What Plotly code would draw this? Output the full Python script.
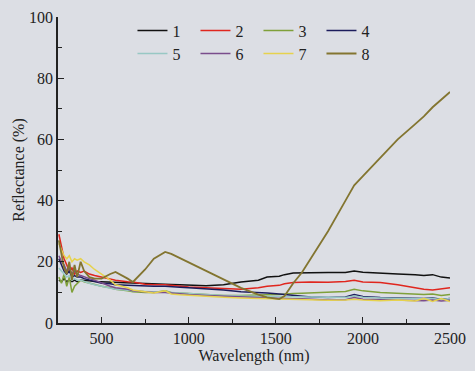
import plotly.graph_objects as go

wavelength = [255, 270, 285, 300, 315, 330, 345, 360, 380, 400, 430, 460, 500, 550, 580, 650, 680, 750,
              800, 865, 900, 950, 1000, 1100, 1200, 1300, 1400, 1450, 1520, 1550, 1600, 1650, 1700,
              1800, 1900, 1950, 2000, 2100, 2200, 2300, 2350, 2400, 2450, 2500]

s1 = [14, 13.5, 14.5, 13.5, 14, 13.5, 14, 13.5, 14, 14, 13.8, 13.6, 13.5, 13.3, 13.2, 13, 13, 12.8,
      12.8, 12.7, 12.6, 12.5, 12.4, 12.2, 12.5, 13.4, 14, 15, 15.3, 15.8, 16.3, 16.4, 16.4,
      16.5, 16.5, 17, 16.6, 16.2, 16, 15.8, 15.5, 15.8, 15, 14.7]
s2 = [29, 25, 21, 19, 17, 18, 16, 17, 16.5, 17, 16, 15.5, 15, 14.5, 14, 13.5, 13.4, 12.7,
      12.5, 12.5, 12.3, 12, 11.8, 11.5, 11.2, 11, 11.5, 12, 12.3, 12.8, 13.2, 13.3, 13.4,
      13.3, 13.6, 14, 13.4, 13.2, 12.5, 11.5, 11, 10.8, 11.2, 11.5]
s3 = [15, 13, 16, 12, 15, 10, 12, 13, 14, 13.5, 13, 12.5, 12, 11.5, 11, 10.5, 10.2, 10,
      10, 10.5, 10, 9.8, 9.6, 9.3, 9, 9, 9, 9.2, 9.3, 9.5, 9.6, 9.7, 9.8,
      10, 10.3, 11, 10.5, 10, 9.8, 9.5, 9.3, 9.5, 9, 9.3]
s4 = [21, 19, 17, 16, 17, 15, 15.5, 15, 15, 14.5, 14, 13.5, 13, 12.8, 12.5, 12.3, 12.2, 12,
      12, 12, 11.8, 11.7, 11.5, 11.2, 10.8, 10.2, 10, 9.8, 9.5, 9.3, 9, 8.8, 8.5,
      8.3, 8.5, 9.3, 8.7, 8.3, 8.2, 8.1, 8, 8.2, 7.8, 8]
s5 = [18, 17, 16, 15, 15.5, 14, 14.5, 14, 14, 13.5, 13, 12.5, 12, 11.5, 11, 10.7, 10.5, 10.3,
      10.2, 10.3, 10, 9.8, 9.6, 9.3, 9, 8.8, 8.7, 8.6, 8.5, 8.5, 8.4, 8.4, 8.3,
      8.2, 8.3, 8.8, 8.4, 8.2, 8, 8, 7.9, 8, 7.7, 8]
s6 = [22, 20, 19, 17, 18, 16, 17, 16, 15.5, 15, 14.5, 14, 13, 12, 11.5, 11, 10.5, 10.2,
      10, 10, 9.8, 9.5, 9.3, 9, 8.7, 8.5, 8.3, 8.2, 8, 8, 7.9, 7.9, 7.8,
      7.5, 7.6, 8.3, 7.8, 7.6, 7.5, 7.4, 7.3, 7.5, 7.2, 7.4]
s7 = [26, 24, 22, 21, 22, 20, 21, 20.5, 21, 20, 19, 17.5, 16, 14, 12.5, 11.5, 10.8, 10.2,
      9.8, 10.5, 9.5, 9.2, 9, 8.7, 8.4, 8.2, 8, 7.9, 7.8, 7.7, 7.6, 7.6, 7.5,
      7.4, 7.5, 7.8, 7.5, 7.3, 7.5, 7.2, 8, 7, 8, 7]
s8 = [27, 22, 18, 16, 20, 14, 19, 15, 20, 17, 15, 14.5, 14.5, 16, 16.7, 14.5, 13.4, 17.5,
      21, 23.2, 22.6, 21.2, 19.8, 17, 14.2, 11.5, 9.3, 8.4, 7.8, 8.8, 13, 16.5, 21,
      30, 40, 45, 48, 54, 60, 65, 67.5, 70.5, 73, 75.5]

names = ["1", "2", "3", "4", "5", "6", "7", "8"]
series = [s1, s2, s3, s4, s5, s6, s7, s8]
colors = ["#111111", "#e0261e", "#7fa03a", "#1c1c5c", "#98c8c4", "#7a4d8c", "#e6d24e", "#837530"]

serif = "Liberation Serif, Times New Roman, serif"
txt = "#222222"
fig = go.Figure()
for i, (nm, ys, c) in enumerate(zip(names, series, colors)):
    fig.add_trace(go.Scatter(x=wavelength, y=ys, mode="lines", name=nm,
                             line=dict(color=c, width=1.8 if i == 7 else 1.5),
                             legend="legend" if i < 4 else "legend2"))

bg = "#dcdee4"
axis_common = dict(showline=True, linecolor=txt, linewidth=1.5, ticks="inside",
                   ticklen=6, tickwidth=1.3, tickcolor=txt, showgrid=False, zeroline=False,
                   tickfont=dict(family=serif, size=16, color=txt), mirror=False,
                   automargin=False)
fig.update_layout(
    width=475, height=371,
    margin=dict(l=58, r=25, t=17, b=48),
    paper_bgcolor=bg, plot_bgcolor=bg,
    font=dict(family=serif, size=16, color=txt),
    xaxis=dict(range=[250, 2500], tickvals=[500, 1000, 1500, 2000, 2500],
               minor=dict(tickvals=[750, 1250, 1750, 2250], ticks="inside", ticklen=4,
                          tickwidth=1.3, tickcolor=txt),
               title=dict(text="Wavelength (nm)", standoff=4,
                          font=dict(family=serif, size=16, color=txt)),
               **axis_common),
    yaxis=dict(range=[0, 100], tickvals=[0, 20, 40, 60, 80, 100],
               minor=dict(tickvals=[10, 30, 50, 70, 90], ticks="inside", ticklen=4,
                          tickwidth=1.3, tickcolor=txt),
               title=dict(text="Reflectance (%)", standoff=0,
                          font=dict(family=serif, size=16, color=txt)),
               **axis_common),
    legend=dict(orientation="h", x=0.19, xanchor="left", y=1.011, yanchor="top",
                bgcolor="rgba(0,0,0,0)", entrywidth=18, entrywidthmode="pixels",
                font=dict(family=serif, size=16, color=txt), tracegroupgap=0),
    legend2=dict(orientation="h", x=0.19, xanchor="left", y=0.936, yanchor="top",
                 bgcolor="rgba(0,0,0,0)", entrywidth=18, entrywidthmode="pixels",
                 font=dict(family=serif, size=16, color=txt), tracegroupgap=0),
)
fig.write_html("out.html", config={"displayModeBar": False},
               post_script="document.body.style.margin='0';document.body.style.padding='0';"
                           "document.documentElement.style.overflow='hidden';")
